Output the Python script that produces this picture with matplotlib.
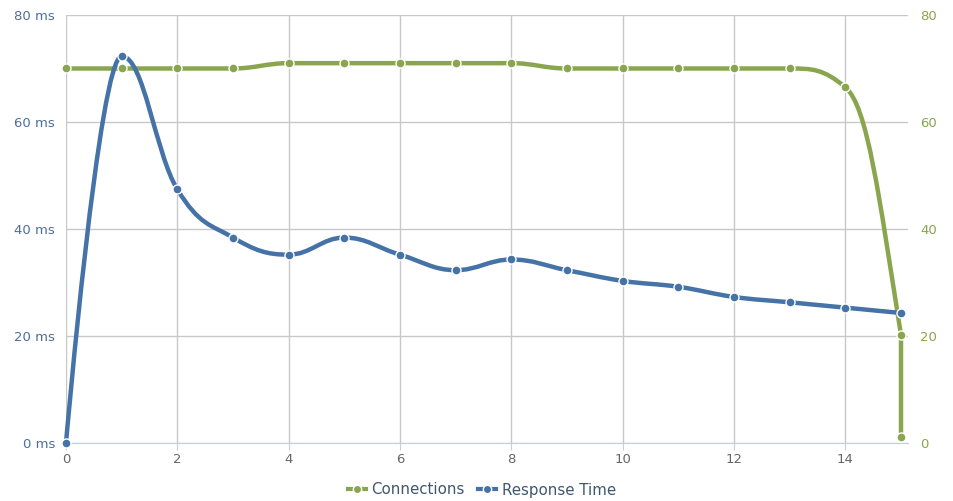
import numpy as np
import matplotlib
matplotlib.use('Agg')
import matplotlib.pyplot as plt
from matplotlib.path import Path
from matplotlib.patches import PathPatch
from matplotlib.lines import Line2D

# data
conn_x = [0, 1, 2, 3, 4, 5, 6, 7, 8, 9, 10, 11, 12, 13, 14, 15, 15]
conn_y = [70, 70, 70, 70, 71, 71, 71, 71, 71, 70, 70, 70, 70, 70, 66.5, 20.2, 1.1]
resp_x = [0, 1, 2, 3, 4, 5, 6, 7, 8, 9, 10, 11, 12, 13, 14, 15]
resp_y = [0, 72.3, 47.4, 38.4, 35.2, 38.4, 35.2, 32.3, 34.3, 32.3, 30.3, 29.2, 27.3, 26.3, 25.3, 24.3]
left_ticks = [0, 20, 40, 60, 80]
x_ticks = [0, 2, 4, 6, 8, 10, 12, 14]

GREEN = '#89A54E'
BLUE = '#4572A7'


def spline_path(xs, ys, sx=1.0, sy=1.0):
    # highcharts-like spline; scale to pixel-ish space so smoothing matches
    px = np.asarray(xs, float) * sx
    py = np.asarray(ys, float) * sy
    n = len(px)
    smoothing, denom = 1.5, 2.5
    lc = [(px[i], py[i]) for i in range(n)]
    rc = [(px[i], py[i]) for i in range(n)]
    for i in range(1, n - 1):
        lx, ly = px[i - 1], py[i - 1]
        nx, ny = px[i + 1], py[i + 1]
        x, y = px[i], py[i]
        lcx = (smoothing * x + lx) / denom
        lcy = (smoothing * y + ly) / denom
        rcx = (smoothing * x + nx) / denom
        rcy = (smoothing * y + ny) / denom
        if rcx != lcx:
            corr = (rcy - lcy) * (rcx - x) / (rcx - lcx) + y - rcy
            lcy += corr
            rcy += corr
        if lcy > ly and lcy > y:
            lcy = max(ly, y)
            rcy = 2 * y - lcy
        elif lcy < ly and lcy < y:
            lcy = min(ly, y)
            rcy = 2 * y - lcy
        if rcy > ny and rcy > y:
            rcy = max(ny, y)
            lcy = 2 * y - rcy
        elif rcy < ny and rcy < y:
            rcy = min(ny, y)
            lcy = 2 * y - rcy
        lc[i] = (lcx, lcy)
        rc[i] = (rcx, rcy)
    verts = [(px[0], py[0])]
    codes = [Path.MOVETO]
    for i in range(1, n):
        verts += [rc[i - 1], lc[i], (px[i], py[i])]
        codes += [Path.CURVE4] * 3
    verts = [(vx / sx, vy / sy) for vx, vy in verts]
    return Path(verts, codes)


fig = plt.figure(figsize=(9.54, 5.01), dpi=100)
ax = fig.add_axes([66 / 954, 1 - 443 / 501, (908 - 66) / 954, (443 - 15) / 501])
ax.set_xlim(0, 15 * 842 / 835)
ax.set_ylim(0, 80)

# pixel scale factors
sx = 835 / 15
sy = 428 / 80

for xs, ys, col, z in [(conn_x, conn_y, GREEN, 3), (resp_x, resp_y, BLUE, 4)]:
    p = spline_path(xs, ys, sx, sy)
    ax.add_patch(PathPatch(p, facecolor='none', edgecolor=col, lw=3.2,
                           zorder=z, clip_on=False, capstyle='round', joinstyle='round'))
    ax.plot(xs, ys, 'o', color=col, ms=6.5, mec='white', mew=1.0, zorder=z + 0.5, clip_on=False)

ax.set_xticks(x_ticks)
ax.set_yticks(left_ticks)
ax.set_yticklabels(['%d ms' % v for v in left_ticks])
ax.grid(True, color='#C8C8C8', lw=1)
ax.set_axisbelow(True)
for s in ['top', 'right', 'left']:
    ax.spines[s].set_visible(False)
ax.spines['bottom'].set_color('#C0D0E0')
ax.tick_params(axis='y', length=0, pad=8, labelsize=9.5, labelcolor='#4d6e9e')
ax.tick_params(axis='x', length=5, color='#C0D0E0', pad=2, labelsize=9.5, labelcolor='#666666')

ax2 = ax.twinx()
ax2.set_ylim(0, 80)
ax2.set_yticks(left_ticks)
for s in ['top', 'right', 'left', 'bottom']:
    ax2.spines[s].set_visible(False)
ax2.tick_params(axis='y', length=0, pad=9, labelsize=9.5, labelcolor=GREEN)

handles = [Line2D([], [], color=GREEN, lw=3, marker='o', ms=6, mec='white', mew=1),
           Line2D([], [], color=BLUE, lw=3, marker='o', ms=6, mec='white', mew=1)]
fig.legend(handles, ['Connections', 'Response Time'], loc='center',
           bbox_to_anchor=(482 / 954, 1 - 490 / 501), ncol=2, frameon=False,
           handlelength=1.2, handletextpad=0.4, columnspacing=0.9,
           prop={'size': 10.8}, labelcolor='#3E576F')

fig.savefig('out.png', dpi=100)
